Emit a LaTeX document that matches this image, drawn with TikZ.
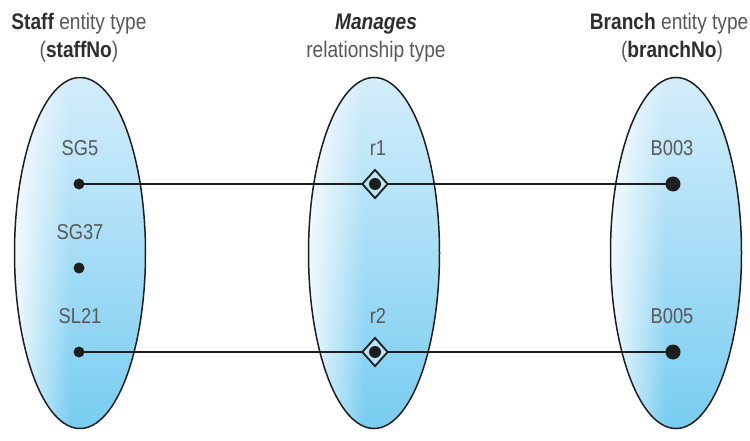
\documentclass[tikz,border=0pt]{standalone}
\usepackage{fontspec}
\setmainfont{Liberation Sans}[FakeStretch=0.85]
\usetikzlibrary{shapes.geometric,fadings}
\definecolor{txt}{HTML}{585858}
\definecolor{txtb}{HTML}{2E2E2E}
\definecolor{lnc}{HTML}{1E1E1E}
\definecolor{blueTop}{HTML}{D4EDFA}
\definecolor{blueBot}{HTML}{78CDF1}
\definecolor{blueMid}{HTML}{BDE5F7}
\tikzfading[name=fade right, left color=transparent!0, right color=transparent!100]
\tikzset{
  setoval/.style={ellipse, draw=lnc, line width=1.5pt, minimum width=131pt, minimum height=351pt,
    path picture={
      \shade[top color=blueTop, bottom color=blueBot]
        (path picture bounding box.south west) rectangle (path picture bounding box.north east);
      \fill[white, path fading=fade right, fill opacity=0.85]
        (path picture bounding box.south west) rectangle ([xshift=-10pt]path picture bounding box.north);
    }},
  lbl/.style={text=txt, font=\fontsize{21.5}{24}\selectfont, inner sep=0pt},
  ttl/.style={text=txt, font=\fontsize{22.5}{26}\selectfont, inner sep=0pt},
  sdot/.style={circle, fill=lnc, inner sep=0pt, minimum size=11pt},
  bdot/.style={circle, fill=lnc, inner sep=0pt, minimum size=15pt},
  rel/.style={diamond, draw=lnc, line width=1.8pt, fill=blueMid, inner sep=0pt, minimum width=26pt, minimum height=29pt},
  conn/.style={draw=lnc, line width=2.4pt}
}
\begin{document}
\begin{tikzpicture}[x=1pt,y=-1pt]
\useasboundingbox (0,0) rectangle (750,441);
% sets
\node[setoval] (staff) at (80,253) {};
\node[setoval] (mgr) at (374,253) {};
\node[setoval] (branch) at (676,253) {};
% titles
\node[ttl] (t1a) at (79,24) {\textcolor{txtb}{\textbf{Staff}} entity type};
\node[ttl] (t1b) at (79,52) {(\textcolor{txtb}{\textbf{staffNo}})};
\node[ttl] (t2a) at (376,24) {\textcolor{txtb}{\textbf{\textit{Manages}}}};
\node[ttl] (t2b) at (376,52) {relationship type};
\node[ttl, anchor=east] (t3a) at (748.5,24) {\textcolor{txtb}{\textbf{Branch}} entity type};
\node[ttl] (t3b) at (672,52) {(\textcolor{txtb}{\textbf{branchNo}})};
% labels
\node[lbl] (lsg5) at (80,148) {SG5};
\node[lbl] (lsg37) at (80,232) {SG37};
\node[lbl] (lsl21) at (80,316) {SL21};
\node[lbl] (lr1) at (378,148) {r1};
\node[lbl] (lr2) at (378,316) {r2};
\node[lbl] (lb3) at (672,148) {B003};
\node[lbl] (lb5) at (672,316) {B005};
% connectors
\coordinate (s1) at (79,184);
\coordinate (s2) at (79,352);
\coordinate (b1) at (673,184);
\coordinate (b2) at (673,352);
\path[conn] (s1) -- (b1);
\path[conn] (s2) -- (b2);
% elements
\node[sdot] (sg5) at (s1) {};
\node[sdot] (sg37) at (79,268) {};
\node[sdot] (sl21) at (s2) {};
\node[bdot] (b003) at (b1) {};
\node[bdot] (b005) at (b2) {};
\node[rel] (r1) at (375,184) {};
\node[rel] (r2) at (375,352) {};
\node[sdot, minimum size=12pt] (r1d) at (r1) {};
\node[sdot, minimum size=12pt] (r2d) at (r2) {};
\end{tikzpicture}
\end{document}
